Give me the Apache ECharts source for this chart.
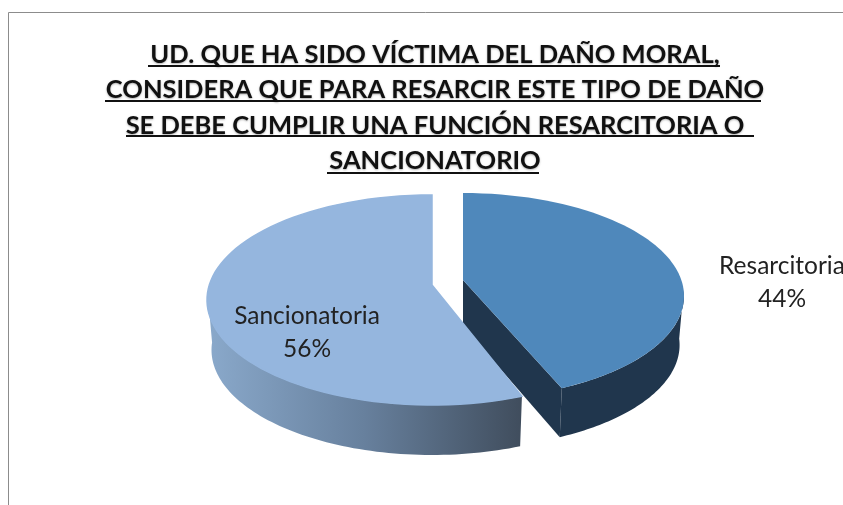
<!DOCTYPE html>
<html>
<head>
<meta charset="utf-8">
<style>
html, body { margin: 0; padding: 0; background: #fff; }
#main { width: 843px; height: 505px; }
</style>
</head>
<body>
<div id="main"></div>
<script src="https://cdn.jsdelivr.net/npm/echarts@6/dist/echarts.min.js"></script>
<script>
const categories = ["Resarcitoria", "Sancionatoria"];
const values = [44, 56];
const titleLines = [
    "UD. QUE HA SIDO VÍCTIMA DEL DAÑO MORAL,",
    "CONSIDERA QUE PARA RESARCIR ESTE TIPO DE DAÑO",
    "SE DEBE CUMPLIR UNA FUNCIÓN RESARCITORIA O",
    "SANCIONATORIO",
];

const fontName = "Lato";
// one entry per slice: exploded apex, ellipse radii and label place
const slices = [
    { cx: 463, cy: 280, rx: 221, ry: 103, dy: 16, depth: 46, warp: 0.126, top: "#4f88bb", label: [782, 283] },
    { cx: 432, cy: 285, rx: 225, ry: 105, dy: 15, depth: 50, warp: 0.05, top: "#95b6de", label: [307, 333] },
];
const underlines = [
    [148, 720, 66],
    [105, 761, 101],
    [126, 754, 136],
    [327, 539, 173],
];

function arcPoints(s, from, to, depth, shrink) {
    let pts = [];
    let n = 80;
    for (let i = 0; i <= n; i++) {
        let a = from + ((to - from) * i) / n;
        // fake perspective, pulls the near edges round a bit
        let t = a + s.warp * Math.sin(2 * a);
        pts.push([
            s.cx + s.rx * shrink * Math.sin(t),
            s.cy + s.dy + depth - s.ry * Math.cos(t),
        ]);
    }
    return pts;
}

function renderSlice(params, api) {
    let i = params.dataIndex;
    let s = slices[i];
    let total = values.reduce((a, b) => a + b, 0);
    let before = values.slice(0, i).reduce((a, b) => a + b, 0);
    let start = (before / total) * 2 * Math.PI;
    let end = ((before + api.value(0)) / total) * 2 * Math.PI;
    let children = [];
    let topArc = arcPoints(s, start, end, 0, 1);
    let apex = [s.cx, s.cy];

    if (i === 0) {
        // dark wall: outer rim plus the cut face
        let rim = arcPoints(s, Math.PI / 2 - 0.08, end, 0, 1);
        let rimLow = arcPoints(s, Math.PI / 2 - 0.08, end, s.depth + 3, 0.98);
        children.push({
            type: "polygon",
            z2: 1,
            shape: { points: rim.concat(rimLow.reverse()) },
            style: { fill: "#20364d" },
        });
        let tip = topArc[topArc.length - 1];
        let tipLow = arcPoints(s, end, end, s.depth + 3, 0.98)[0];
        children.push({
            type: "polygon",
            z2: 1,
            shape: { points: [apex, tip, tipLow, [s.cx, s.cy + s.depth]] },
            style: { fill: "#20364d" },
        });
    } else {
        let rim = arcPoints(s, start, 1.5 * Math.PI + 0.08, 0, 1);
        let rimLow = arcPoints(s, start, 1.5 * Math.PI + 0.08, s.depth, 0.98);
        children.push({
            type: "polygon",
            z2: 1,
            shape: { points: rim.concat(rimLow.reverse()) },
            style: {
                fill: new echarts.graphic.LinearGradient(0, 0, 1, 0, [
                    { offset: 0, color: "#8aa9cb" },
                    { offset: 0.5, color: "#67809d" },
                    { offset: 1, color: "#404d5d" },
                ]),
            },
        });
    }

    children.push({
        type: "polygon",
        z2: 2,
        shape: { points: [apex].concat(topArc) },
        // the stroke closes a hairline gap against the dark wall
        style: { fill: s.top, stroke: i === 1 ? s.top : null, lineWidth: 1.5 },
    });
    children.push({
        type: "text",
        z2: 3,
        style: {
            x: s.label[0],
            y: s.label[1],
            text: categories[i] + "\n" + api.value(0) + "%",
            align: "center",
            verticalAlign: "middle",
            fill: "#222",
            font: "24.5px " + fontName,
            lineHeight: 33,
        },
    });
    return { type: "group", z2: i === 0 ? 10 : 0, children: children };
}

let myChart = echarts.init(document.getElementById("main"));

myChart.setOption({
    backgroundColor: "#fff",
    animation: false,
    title: {
        text: titleLines.join("\n"),
        left: 430,
        top: 32,
        textAlign: "center",
        textStyle: {
            fontFamily: fontName,
            fontSize: 25.5,
            fontWeight: "bold",
            color: "#111",
            lineHeight: 35.5,
            align: "center",
            textShadowColor: "rgba(0,0,0,0.3)",
            textShadowBlur: 2,
            textShadowOffsetX: 0,
            textShadowOffsetY: 1,
        },
    },
    graphic: [
        {
            type: "polyline",
            silent: true,
            shape: { points: [[8.5, 505], [8.5, 12.5], [843, 12.5]] },
            style: { stroke: "#8c8c8c", lineWidth: 1, fill: null },
        },
    ].concat(
        underlines.map((u) => ({
            type: "line",
            silent: true,
            shape: { x1: u[0], y1: u[2], x2: u[1], y2: u[2] },
            style: { stroke: "#111", lineWidth: 2 },
        }))
    ),
    series: [
        {
            type: "custom",
            coordinateSystem: "none",
            renderItem: renderSlice,
            data: values.map((v) => [v]),
            encode: { value: 0 },
        },
    ],
});
</script>
</body>
</html>
